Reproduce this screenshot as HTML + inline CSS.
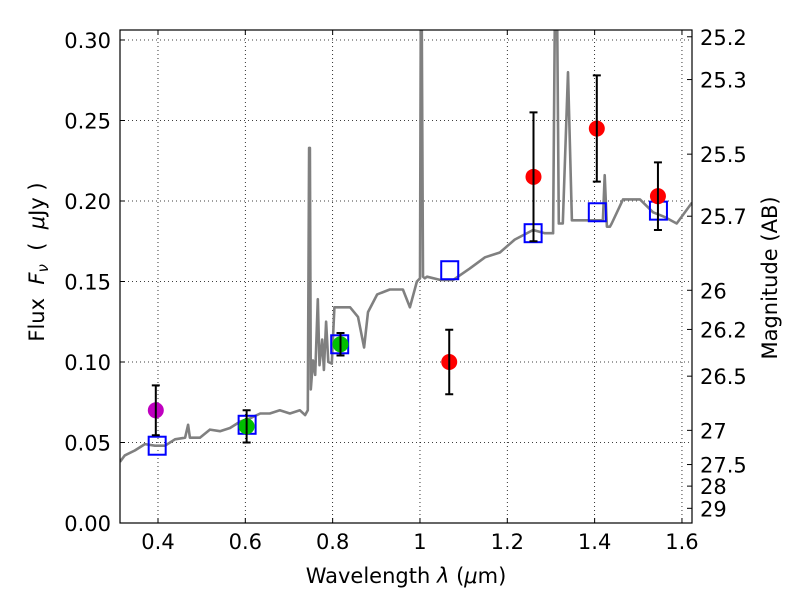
<!DOCTYPE html>
<html><head><meta charset="utf-8"><style>
html,body{margin:0;padding:0;background:#fff;}
svg{display:block;font-family:"DejaVu Sans","Liberation Sans",sans-serif;}
</style></head><body>
<svg id="chart" width="800" height="600" viewBox="0 0 800 600"></svg>
<script>
const specWave=[0.313,0.324,0.347,0.370,0.393,0.416,0.439,0.462,0.469,0.473,0.496,0.519,0.542,0.565,0.588,0.611,0.634,0.656,0.679,0.702,0.725,0.737,0.743,0.746,0.748,0.750,0.755,0.760,0.766,0.770,0.776,0.780,0.785,0.790,0.798,0.804,0.810,0.824,0.840,0.858,0.872,0.881,0.902,0.931,0.961,0.977,0.993,1.000,1.002,1.004,1.007,1.011,1.016,1.046,1.076,1.114,1.149,1.183,1.217,1.259,1.286,1.305,1.309,1.314,1.318,1.327,1.339,1.348,1.357,1.366,1.419,1.423,1.428,1.435,1.439,1.465,1.504,1.534,1.561,1.588,1.623];
const specFlux=[0.038,0.042,0.045,0.049,0.048,0.048,0.052,0.053,0.061,0.053,0.053,0.058,0.057,0.059,0.063,0.065,0.068,0.068,0.070,0.068,0.070,0.067,0.070,0.233,0.233,0.083,0.101,0.092,0.139,0.098,0.114,0.095,0.125,0.100,0.099,0.134,0.134,0.134,0.134,0.128,0.109,0.131,0.142,0.145,0.145,0.134,0.150,0.152,0.32,0.32,0.153,0.152,0.153,0.151,0.151,0.158,0.165,0.168,0.176,0.182,0.180,0.180,0.32,0.32,0.186,0.186,0.280,0.188,0.188,0.188,0.188,0.216,0.184,0.184,0.186,0.201,0.201,0.193,0.190,0.186,0.199];
const modelWave=[0.397,0.603,0.815,1.067,1.258,1.405,1.545];
const modelFlux=[0.048,0.061,0.111,0.157,0.180,0.193,0.194];
const obsWave=[0.395,0.603,0.818,1.067,1.26,1.405,1.545];
const obsFlux=[0.070,0.060,0.111,0.100,0.215,0.245,0.203];
const obsErr=[0.0155,0.010,0.007,0.020,0.040,0.033,0.021];
const obsColor=['#bf00bf','#00bf00','#00bf00','#ff0000','#ff0000','#ff0000','#ff0000'];
const xTicks=[0.4,0.6,0.8,1.0,1.2,1.4,1.6];
const xTickLabels=['0.4','0.6','0.8','1','1.2','1.4','1.6'];
const yTicks=[0,0.05,0.10,0.15,0.20,0.25,0.30];
const yTickLabels=['0.00','0.05','0.10','0.15','0.20','0.25','0.30'];
const magTicks=[25.2,25.3,25.5,25.7,26,26.2,26.5,27,27.5,28,29];
const magTickLabels=['25.2','25.3','25.5','25.7','26','26.2','26.5','27','27.5','28','29'];

const L=120,R=692,T=30,B=523;
const xMin=0.313,xMax=1.623,yMin=0,yMax=0.3062;
const sx=v=>L+(v-xMin)/(xMax-xMin)*(R-L);
const sy=v=>B-(v-yMin)/(yMax-yMin)*(B-T);
const svg=document.getElementById('chart');
const NS='http://www.w3.org/2000/svg';
function mk(tag,attrs,parent){const e=document.createElementNS(NS,tag);for(const k in attrs)e.setAttribute(k,attrs[k]);(parent||svg).appendChild(e);return e;}

const defs=mk('defs',{});
const cp=mk('clipPath',{id:'clip'},defs);
mk('rect',{x:L,y:T,width:R-L,height:B-T},cp);

xTicks.forEach((t,i)=>{
  const g=mk('line',{x1:sx(t),x2:sx(t),y1:T,y2:B,stroke:'#000','stroke-width':0.8,'stroke-dasharray':'1,3'});
  
  
  mk('line',{x1:sx(t),x2:sx(t),y1:B,y2:B-5,stroke:'#000'});
  mk('line',{x1:sx(t),x2:sx(t),y1:T,y2:T+5,stroke:'#000'});
  const tx=mk('text',{x:sx(t),y:B+26,'text-anchor':'middle','font-size':21});
  tx.textContent=xTickLabels[i];
  
  
});
yTicks.forEach((t,i)=>{
  const g=mk('line',{x1:L,x2:R,y1:sy(t),y2:sy(t),stroke:'#000','stroke-width':0.8,'stroke-dasharray':'1,3'});
  
  
  mk('line',{x1:L,x2:L+5,y1:sy(t),y2:sy(t),stroke:'#000'});
  const tx=mk('text',{x:L-9,y:sy(t)+8,'text-anchor':'end','font-size':21});
  tx.textContent=yTickLabels[i];
  
  
});
const magToY=m=>sy(Math.pow(10,(23.9-m)/2.5));
magTicks.forEach((m,i)=>{
  const y=magToY(m);
  mk('line',{x1:R,x2:R-5,y1:y,y2:y,stroke:'#000'});
  const tx=mk('text',{x:R+8,y:y+8,'font-size':21});
  tx.textContent=magTickLabels[i];
  
  
});

const pts=specWave.map((w,i)=>sx(w).toFixed(1)+','+sy(specFlux[i]).toFixed(1)).join(' ');
const sp=mk('polyline',{points:pts,fill:'none',stroke:'#808080','stroke-width':2.6,'clip-path':'url(#clip)','stroke-linejoin':'round'});



modelWave.forEach((w,i)=>{
  const s=mk('rect',{x:sx(w)-8,y:sy(modelFlux[i])-9,width:17,height:18,fill:'none',stroke:'#0000ff','stroke-width':2});
  
  
});
obsWave.forEach((w,i)=>{
  const x=sx(w),y1=sy(obsFlux[i]+obsErr[i]),y2=sy(obsFlux[i]-obsErr[i]);
  const c=mk('circle',{cx:x,cy:sy(obsFlux[i]),r:8,fill:obsColor[i]});
  
  
  const e=mk('path',{d:`M${x},${y1}V${y2}M${x-4},${y1}H${x+4}M${x-4},${y2}H${x+4}`,stroke:'#000','stroke-width':2,fill:'none'});
  
  
});

const frame=mk('rect',{x:L,y:T,width:R-L,height:B-T,fill:'none',stroke:'#000','stroke-width':1.2});


</script>
<svg style="position:absolute;left:0;top:0" width="800" height="600">
  <text x="406" y="583" text-anchor="middle" font-size="21" font-family="DejaVu Sans, Liberation Sans, sans-serif">Wavelength  <tspan font-style="italic">λ</tspan> (<tspan font-style="italic">μ</tspan>m)</text>
  <text transform="translate(44,262) rotate(-90)" text-anchor="middle" font-size="21" font-family="DejaVu Sans, Liberation Sans, sans-serif" xml:space="preserve">Flux  <tspan font-style="italic">F</tspan><tspan font-style="italic" font-size="15" dy="4">ν</tspan><tspan dy="-4">  (  </tspan><tspan font-style="italic">μ</tspan>Jy )</text>
  <text transform="translate(777,278) rotate(-90)" text-anchor="middle" font-size="21" font-family="DejaVu Sans, Liberation Sans, sans-serif">Magnitude (AB)</text>
</svg>
</body></html>
